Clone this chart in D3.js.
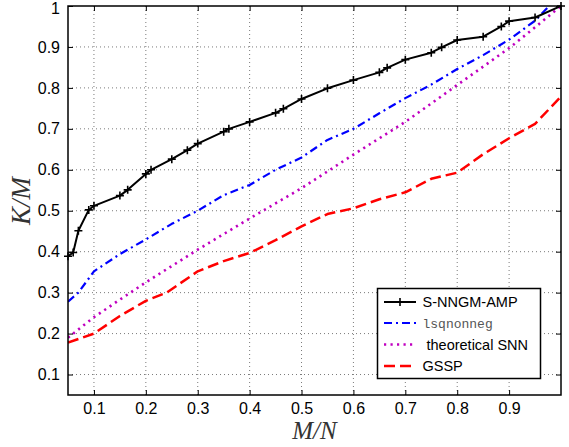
<!DOCTYPE html>
<html>
<head>
<meta charset="utf-8">
<script src="https://d3js.org/d3.v7.min.js"></script>
<style>
  body { margin: 0; background: #fff; }
</style>
</head>
<body>
<div id="chart"></div>
<script>
// Data
var seriesNames = ["S-NNGM-AMP", "lsqnonneg", "theoretical SNN", "GSSP"];

var amp_x = [0.05, 0.06, 0.07, 0.09, 0.1, 0.15, 0.165, 0.2, 0.21, 0.25, 0.28, 0.3, 0.35, 0.36, 0.4,
    0.45, 0.465, 0.5, 0.55, 0.6, 0.65, 0.665, 0.7, 0.75, 0.77, 0.8, 0.85, 0.885, 0.9, 0.95, 1.0];
var amp_y = [0.389, 0.398, 0.451, 0.502, 0.512, 0.537, 0.551, 0.590, 0.600, 0.626, 0.648, 0.664, 0.693, 0.700, 0.717,
    0.739, 0.749, 0.773, 0.799, 0.819, 0.838, 0.849, 0.869, 0.886, 0.899, 0.917, 0.925, 0.950, 0.963, 0.972, 1.0];

var lsq_x = [0.05, 0.07, 0.1, 0.15, 0.2, 0.25, 0.3, 0.35, 0.4, 0.45, 0.5, 0.55, 0.6, 0.65, 0.7, 0.75, 0.8, 0.85, 0.9, 0.95, 1.0];
var lsq_y = [0.278, 0.300, 0.352, 0.394, 0.430, 0.468, 0.500, 0.538, 0.563, 0.600, 0.630, 0.673, 0.700, 0.738, 0.775, 0.808, 0.846, 0.880, 0.918, 0.964, 1.03];

var snn_x = [0.05, 0.1, 0.15, 0.2, 0.25, 0.3, 0.35, 0.4, 0.45, 0.5, 0.55, 0.6, 0.65, 0.7, 0.75, 0.8, 0.85, 0.9, 0.95, 1.0];
var snn_y = [0.190, 0.240, 0.283, 0.325, 0.365, 0.405, 0.443, 0.481, 0.518, 0.555, 0.596, 0.637, 0.677, 0.717, 0.762, 0.807, 0.852, 0.897, 0.948, 1.0];

var gssp_x = [0.05, 0.1, 0.15, 0.2, 0.24, 0.3, 0.35, 0.4, 0.45, 0.5, 0.55, 0.6, 0.65, 0.7, 0.75, 0.8, 0.85, 0.9, 0.95, 1.0];
var gssp_y = [0.178, 0.200, 0.243, 0.280, 0.300, 0.352, 0.377, 0.397, 0.428, 0.462, 0.492, 0.506, 0.528, 0.545, 0.578, 0.593, 0.638, 0.677, 0.712, 0.779];

var xTicks = [0.1, 0.2, 0.3, 0.4, 0.5, 0.6, 0.7, 0.8, 0.9];
var yTicks = [0.1, 0.2, 0.3, 0.4, 0.5, 0.6, 0.7, 0.8, 0.9, 1];

// Size of svg and plot box
var svgWidth = 569;
var svgHeight = 447;

var margin = {
    top: 6,
    right: 8,
    bottom: 52,
    left: 68
};

var width = svgWidth - margin.left - margin.right;
var height = svgHeight - margin.top - margin.bottom;

var svg = d3.select("#chart")
    .append("svg")
    .attr("width", svgWidth)
    .attr("height", svgHeight);

var chartGroup = svg.append("g")
    .attr("transform", `translate(${margin.left}, ${margin.top})`);

// Scales
var xScale = d3.scaleLinear().domain([0.05, 1]).range([0, width]);
var yScale = d3.scaleLinear().domain([0.05, 1]).range([height, 0]);

svg.append("defs").append("clipPath")
    .attr("id", "plotClip")
    .append("rect")
    .attr("width", width)
    .attr("height", height);

// Dotted grid
chartGroup.append("g")
    .selectAll("line")
    .data(xTicks)
    .enter()
    .append("line")
    .attr("x1", d => xScale(d))
    .attr("x2", d => xScale(d))
    .attr("y1", 0)
    .attr("y2", height)
    .attr("stroke", "#7a7a7a")
    .attr("stroke-width", 1)
    .attr("stroke-dasharray", "1,3");

chartGroup.append("g")
    .selectAll("line")
    .data(yTicks.filter(d => d < 1))
    .enter()
    .append("line")
    .attr("x1", 0)
    .attr("x2", width)
    .attr("y1", d => yScale(d))
    .attr("y2", d => yScale(d))
    .attr("stroke", "#7a7a7a")
    .attr("stroke-width", 1)
    .attr("stroke-dasharray", "1,3");

// Axes (matlab style, ticks pointing in)
var bottomAxis = d3.axisBottom(xScale).tickValues(xTicks).tickSizeInner(-5).tickSizeOuter(0).tickPadding(8);
var topAxis = d3.axisTop(xScale).tickValues(xTicks).tickSizeInner(-5).tickSizeOuter(0).tickFormat("");
var leftAxis = d3.axisLeft(yScale).tickValues(yTicks).tickSizeInner(-5).tickSizeOuter(0).tickPadding(8)
    .tickFormat(d => d === 1 ? "1" : d3.format(".1f")(d));
var rightAxis = d3.axisRight(yScale).tickValues(yTicks).tickSizeInner(-5).tickSizeOuter(0).tickFormat("");

function styleAxis(g) {
    g.select(".domain").remove();
    g.selectAll("line").attr("stroke", "#000").attr("stroke-width", 1);
    g.selectAll("text")
        .attr("fill", "#000")
        .style("font-family", "'Liberation Sans', Arial, sans-serif")
        .style("font-size", "16px");
}

chartGroup.append("g").attr("transform", `translate(0, ${height})`).call(bottomAxis).call(styleAxis);
chartGroup.append("g").call(topAxis).call(styleAxis);
var leftG = chartGroup.append("g").call(leftAxis).call(styleAxis);
// keep the "1" inside the picture
leftG.selectAll("text").filter(d => d === 1).attr("dy", "0.45em");
chartGroup.append("g").attr("transform", `translate(${width}, 0)`).call(rightAxis).call(styleAxis);

// Lines
var lineGen = d3.line()
    .x(d => xScale(d[0]))
    .y(d => yScale(d[1]));

var plotArea = chartGroup.append("g").attr("clip-path", "url(#plotClip)");

var ampStyle = { xs: amp_x, ys: amp_y, color: "#000000", width: 2, dash: null };
var lsqStyle = { xs: lsq_x, ys: lsq_y, color: "#0000ff", width: 2.2, dash: "8,4,2,4" };
var snnStyle = { xs: snn_x, ys: snn_y, color: "#c000c0", width: 2.6, dash: "2.2,4.3" };
var gsspStyle = { xs: gssp_x, ys: gssp_y, color: "#ff0000", width: 2.5, dash: "11,5" };

// drawing order, legend order differs
[snnStyle, gsspStyle, lsqStyle, ampStyle].forEach(s => {
    var pts = s.xs.map((x, i) => [x, s.ys[i]]);
    plotArea.append("path")
        .datum(pts)
        .attr("d", lineGen)
        .attr("fill", "none")
        .attr("stroke", s.color)
        .attr("stroke-width", s.width)
        .attr("stroke-linejoin", "round")
        .attr("stroke-dasharray", s.dash);
});

// + markers on S-NNGM-AMP
chartGroup.append("g")
    .selectAll("path")
    .data(amp_x.map((x, i) => [x, amp_y[i]]))
    .enter()
    .append("path")
    .attr("d", d => {
        var cx = xScale(d[0]), cy = yScale(d[1]);
        return `M${cx - 4},${cy}H${cx + 4}M${cx},${cy - 4}V${cy + 4}`;
    })
    .attr("stroke", "#000")
    .attr("stroke-width", 1.6);

// Frame
chartGroup.append("rect")
    .attr("width", width)
    .attr("height", height)
    .attr("fill", "none")
    .attr("stroke", "#000")
    .attr("stroke-width", 1.5);

// Axis labels
svg.append("text")
    .attr("x", margin.left + width / 2)
    .attr("y", 439)
    .attr("text-anchor", "middle")
    .style("font-family", "'Liberation Serif', 'Times New Roman', serif")
    .style("font-style", "italic")
    .style("font-size", "25px")
    .attr("fill", "#333")
    .text("M/N");

svg.append("text")
    .attr("transform", `translate(30, 201) rotate(-90)`)
    .attr("text-anchor", "middle")
    .style("font-family", "'Liberation Serif', 'Times New Roman', serif")
    .style("font-style", "italic")
    .style("font-size", "27px")
    .attr("fill", "#333")
    .text("K/M");

// Legend
var legend = svg.append("g");
legend.append("rect")
    .attr("x", 377.5)
    .attr("y", 288.5)
    .attr("width", 163)
    .attr("height", 90)
    .attr("fill", "#fff")
    .attr("stroke", "#000")
    .attr("stroke-width", 1.5);

var legendY = [302, 323, 344.5, 366];
[ampStyle, lsqStyle, snnStyle, gsspStyle].forEach((s, i) => {
    var y = legendY[i];
    legend.append("line")
        .attr("x1", 384)
        .attr("x2", 416)
        .attr("y1", y)
        .attr("y2", y)
        .attr("stroke", s.color)
        .attr("stroke-width", s.width)
        .attr("stroke-dasharray", s.dash);
    if (i === 0) {
        legend.append("path")
            .attr("d", `M396,${y}H404M400,${y - 4}V${y + 4}`)
            .attr("stroke", "#000")
            .attr("stroke-width", 1.6);
    }
    legend.append("text")
        .attr("x", i === 2 ? 426.5 : 422.5)
        .attr("y", y + 5)
        .style("font-family", i === 1 ? "'Liberation Mono', 'Courier New', monospace" : "'Liberation Sans', Arial, sans-serif")
        .style("font-size", i === 1 ? "13px" : "14.5px")
        .attr("fill", i === 1 ? "#555" : "#000")
        .text(seriesNames[i]);
});
</script>
</body>
</html>
